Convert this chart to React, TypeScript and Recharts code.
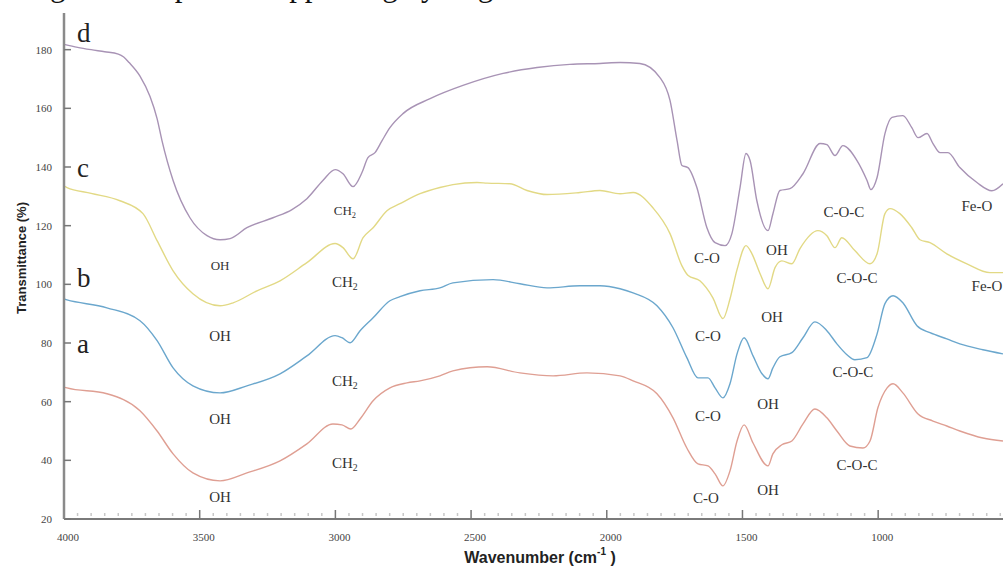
import React from 'react';
import { LineChart, Line, XAxis, YAxis, ReferenceDot } from 'recharts';

// FTIR spectra, transmittance (%) vs wavenumber (cm-1)
const waveD = [4000, 3950, 3900, 3850, 3800, 3780, 3760, 3720, 3683, 3657, 3639, 3598, 3536, 3473, 3425, 3388, 3326, 3230, 3160, 3105, 3046, 3001, 2972, 2935, 2902, 2880, 2854, 2828, 2799, 2751, 2651, 2530, 2382, 2257, 2136, 2025, 1951, 1878, 1804, 1767, 1741, 1723, 1701, 1668, 1631, 1601, 1564, 1539, 1509, 1487, 1472, 1447, 1406, 1388, 1362, 1325, 1277, 1214, 1189, 1159, 1130, 1078, 1041, 1027, 1004, 975, 949, 909, 876, 853, 820, 798, 772, 743, 699, 636, 581, 540];
const transD = [181.8, 180.8, 180, 179.3, 178.5, 177.5, 175.6, 171, 164, 156.5, 149, 135.4, 122.7, 116.6, 115.2, 115.6, 119.3, 122.7, 125.5, 129.2, 135.4, 139.1, 137.7, 133.3, 138.1, 143.2, 144.9, 149, 153.4, 158.2, 163.3, 167.8, 171.9, 173.9, 175, 175.3, 175.6, 175.3, 170.5, 162.7, 149, 140.5, 139.8, 133, 119.3, 114.2, 113.2, 117.3, 133, 144.6, 142.2, 128.5, 118.3, 124, 132, 132.6, 137.7, 148, 147.6, 143.9, 147.3, 142.2, 135.4, 132.3, 136.4, 151.4, 156.9, 157.5, 153.4, 150, 151.4, 148, 144.9, 144.9, 139.8, 134.7, 131.9, 134.3];

const waveC = [4000, 3989, 3900, 3794, 3709, 3657, 3598, 3525, 3425, 3377, 3289, 3204, 3105, 3001, 2972, 2935, 2898, 2861, 2810, 2762, 2688, 2615, 2567, 2478, 2441, 2357, 2294, 2220, 2099, 2025, 1951, 1903, 1830, 1767, 1723, 1700, 1657, 1609, 1572, 1546, 1520, 1487, 1465, 1435, 1406, 1380, 1355, 1318, 1288, 1222, 1189, 1159, 1134, 1086, 1030, 1004, 975, 956, 920, 876, 846, 809, 747, 673, 588, 540];
const transC = [133.5, 133, 131, 128.5, 124.1, 114.9, 104.6, 96.8, 92.7, 93.7, 97.8, 101.2, 107.4, 113.9, 112.5, 108.7, 115.9, 119.3, 125.1, 127.5, 130.9, 133, 134, 134.7, 134.5, 134.3, 132, 130.6, 131.3, 132, 130.9, 131.3, 126.1, 117.3, 106.3, 103, 101.2, 95.4, 88.3, 95, 105, 113.2, 110.4, 103.6, 98.5, 105.7, 108, 107, 112.2, 118.3, 116.6, 112.5, 115.9, 111.5, 107, 110.4, 124.1, 125.8, 124.1, 119.3, 115.2, 114.2, 110.4, 107, 104, 104];

const waveB = [4000, 3989, 3842, 3720, 3657, 3598, 3525, 3425, 3326, 3204, 3105, 3001, 2976, 2946, 2909, 2861, 2799, 2762, 2688, 2615, 2567, 2419, 2320, 2220, 2099, 2025, 1951, 1903, 1815, 1756, 1705, 1664, 1627, 1601, 1572, 1546, 1520, 1494, 1461, 1428, 1406, 1388, 1362, 1318, 1277, 1233, 1189, 1152, 1115, 1086, 1041, 1004, 975, 945, 909, 857, 809, 747, 699, 614, 540];
const transB = [95, 94.7, 92, 87.6, 80.8, 71.5, 65.4, 63, 65.4, 69.5, 75.6, 82.5, 81.8, 80.1, 84.2, 88.6, 94.4, 95.8, 97.8, 98.8, 100.5, 101.6, 100.2, 98.8, 99.5, 99.5, 98.5, 97.1, 92.7, 85.2, 75, 68.1, 68.1, 64.7, 61.3, 66.1, 76.3, 81.8, 75.6, 69.5, 67.8, 71.5, 75.3, 76.7, 81.8, 87.2, 84.2, 79.7, 76, 74.3, 75, 83.1, 93.4, 96.1, 93.7, 85.9, 83.5, 81.4, 79.7, 77.7, 76.3];

const waveA = [4000, 3989, 3842, 3720, 3657, 3598, 3525, 3425, 3326, 3204, 3105, 3009, 2976, 2943, 2909, 2861, 2799, 2736, 2688, 2615, 2567, 2441, 2320, 2198, 2073, 1951, 1903, 1815, 1756, 1705, 1664, 1627, 1601, 1572, 1546, 1520, 1494, 1461, 1406, 1388, 1355, 1318, 1277, 1233, 1189, 1152, 1104, 1056, 1030, 1001, 967, 945, 909, 853, 798, 747, 699, 614, 540];
const transA = [65, 64.7, 62.7, 56.9, 50, 42.2, 35.7, 33, 35.7, 39.8, 45.6, 52.4, 52.1, 50.7, 54.1, 60.3, 64.7, 66.4, 67.1, 68.8, 70.5, 71.9, 69.8, 68.8, 69.8, 68.8, 67.1, 62.7, 54.5, 44.2, 38.8, 38.1, 35.4, 31.3, 36.4, 46.6, 52.1, 45.9, 38.1, 42.2, 45.3, 46.6, 52.4, 57.5, 54.5, 50, 44.9, 44.2, 46.6, 57.9, 64.7, 66.1, 63, 55.8, 53.4, 51.7, 50, 47.6, 46.6];

const xTicks = [4000, 3500, 3000, 2500, 2000, 1500, 1000];
const yTicks = [20, 40, 60, 80, 100, 120, 140, 160, 180];

// sample letters
const curveNames = ['d', 'c', 'b', 'a'];
const curveNameWave = [3952, 3952, 3952, 3952];
const curveNameT = [182.7, 136.7, 99.1, 76.6];

// band assignments
const noteText = ['OH', 'CH2', 'C-O', 'OH', 'C-O-C', 'Fe-O', 'OH', 'CH2', 'C-O', 'OH', 'C-O-C', 'Fe-O', 'OH', 'CH2', 'C-O', 'OH', 'C-O-C', 'OH', 'CH2', 'C-O', 'OH', 'C-O-C'];
const noteWave = [3425, 2965, 1631, 1373, 1126, 636, 3425, 2965, 1627, 1391, 1078, 599, 3425, 2965, 1627, 1406, 1093, 3425, 2965, 1635, 1406, 1078];
const noteT = [106.3, 125.1, 109, 111.8, 124.7, 126.8, 82.4, 100.9, 82.4, 88.9, 102.2, 99.5, 54.1, 67.1, 55.1, 59.2, 70.2, 27.5, 39.1, 27.2, 29.9, 38.4];
const noteSmall = [true, true];

const toSeries = (w: number[], t: number[]) => w.map((x, i) => ({ w: x, t: t[i] }));

const series = [
  { key: 'd', data: toSeries(waveD, transD), color: '#a893b5' },
  { key: 'c', data: toSeries(waveC, transC), color: '#e2d985' },
  { key: 'b', data: toSeries(waveB, transB), color: '#6ba7cd' },
  { key: 'a', data: toSeries(waveA, transA), color: '#df9f93' },
];

const minorTicks: number[] = [];
for (let v = 3950; v >= 550; v -= 50) if (!xTicks.includes(v)) minorTicks.push(v);

const SERIF = '"Liberation Serif", "Times New Roman", serif';
const SANS = '"Liberation Sans", Arial, sans-serif';

const YTick = ({ x, y, payload }: any) => (
  <g>
    <line x1={x} x2={x + 7} y1={y} y2={y} stroke="#777" strokeWidth={1.5} />
    <text x={x - 12} y={y} textAnchor="end" dominantBaseline="central" fontSize={11} fill="#444" fontFamily={SERIF}>
      {payload.value}
    </text>
  </g>
);

const XTick = ({ x, y, payload }: any) => {
  if (!xTicks.includes(payload.value)) {
    return <line x1={x} x2={x} y1={y - 6} y2={y - 3} stroke="#c8c8c8" strokeWidth={1.5} />;
  }
  return (
    <g>
      {payload.value !== 4000 && <line x1={x} x2={x} y1={y} y2={y - 9} stroke="#777" strokeWidth={1.5} />}
      <text x={x + 4} y={y + 18} textAnchor="middle" dominantBaseline="central" fontSize={11} fill="#444" fontFamily={SERIF}>
        {payload.value}
      </text>
    </g>
  );
};

const noteShape = (text: string, size: number) => (p: any) => {
  if (text === 'CH2') {
    return (
      <text x={p.cx} y={p.cy} textAnchor="middle" dominantBaseline="central" fontSize={size} fill="#333" fontFamily={SERIF}>
        CH<tspan fontSize={size * 0.65} dy={4}>2</tspan>
      </text>
    );
  }
  return (
    <text x={p.cx} y={p.cy} textAnchor="middle" dominantBaseline="central" fontSize={size} fill="#333" fontFamily={SERIF}>
      {text}
    </text>
  );
};

const nameShape = (text: string) => (p: any) => (
  <text x={p.cx} y={p.cy} textAnchor="start" fontSize={27} fill="#222" fontFamily={SERIF}>
    {text}
  </text>
);

export default function App() {
  return (
    <div style={{ position: 'absolute', left: 0, top: 0, width: 1003, height: 567, background: '#fff', overflow: 'hidden' }}>
      {/* cut-off caption line from the page above */}
      <div
        style={{
          position: 'absolute', left: 6, top: -30, fontSize: 31, lineHeight: '31px',
          fontFamily: SERIF, whiteSpace: 'nowrap', color: '#111',
        }}
      >
        o signature top in the appearing hydrogen was moved to a lower wavenumber and
      </div>
      <LineChart width={1003} height={567} margin={{ top: 13, right: 0, left: 0, bottom: 18 }}>
        <XAxis
          dataKey="w"
          type="number"
          domain={[540, 4000]}
          reversed
          allowDataOverflow
          ticks={[...xTicks, ...minorTicks]}
          interval={0}
          tick={<XTick />}
          tickSize={0}
          tickMargin={0}
          height={30}
          axisLine={{ stroke: '#7a7a7a', strokeWidth: 2 }}
          label={{
            content: () => (
              <text x={540} y={557} textAnchor="middle" dominantBaseline="central" fontSize={16} fontWeight="bold" fill="#222" fontFamily={SANS}>
                Wavenumber (cm<tspan fontSize={10} dy={-6}>-1</tspan><tspan dy={6}> )</tspan>
              </text>
            ),
          }}
        />
        <YAxis
          type="number"
          domain={[20, 192.5]}
          allowDataOverflow
          ticks={yTicks}
          interval={0}
          tick={<YTick />}
          tickSize={0}
          tickMargin={0}
          width={64}
          axisLine={{ stroke: '#8a8a8a', strokeWidth: 2.5 }}
          label={{
            content: () => (
              <text x={21} y={258} transform="rotate(-90 21 258)" textAnchor="middle" dominantBaseline="central" fontSize={13} fontWeight="bold" fill="#222" fontFamily={SANS}>
                Transmittance (%)
              </text>
            ),
          }}
        />
        {series.map((s) => (
          <Line
            key={s.key}
            data={s.data}
            dataKey="t"
            type="monotone"
            stroke={s.color}
            strokeWidth={1.4}
            dot={false}
            activeDot={false}
            isAnimationActive={false}
          />
        ))}
        {noteText.map((t, i) => (
          <ReferenceDot
            key={`note-${i}`}
            x={noteWave[i]}
            y={noteT[i]}
            r={0}
            shape={noteShape(t, noteSmall[i] ? 13 : 15)}
          />
        ))}
        {curveNames.map((n, i) => (
          <ReferenceDot key={`name-${n}`} x={curveNameWave[i]} y={curveNameT[i]} r={0} shape={nameShape(n)} />
        ))}
      </LineChart>
    </div>
  );
}
